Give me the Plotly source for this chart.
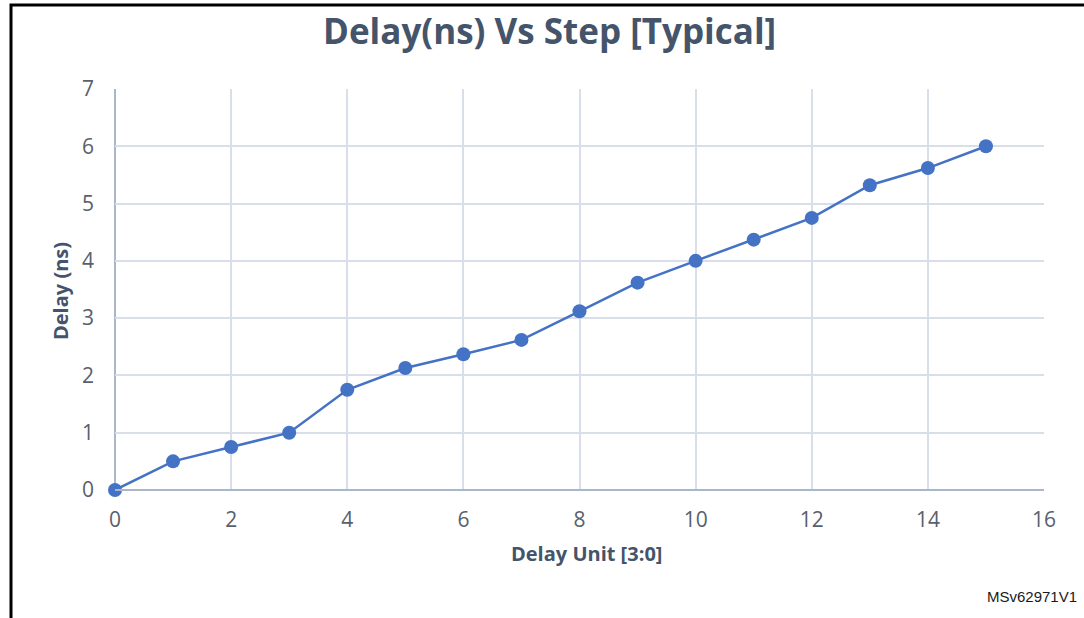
import plotly.graph_objects as go

steps = list(range(16))
delay_ns = [0, 0.5, 0.75, 1.0, 1.75, 2.13, 2.37, 2.62, 3.12, 3.62, 4.0, 4.37, 4.75, 5.32, 5.62, 6.0]
x_ticks = [0, 2, 4, 6, 8, 10, 12, 14, 16]
y_ticks = [0, 1, 2, 3, 4, 5, 6, 7]

W, H = 1084, 618
L, R, T, B = 115, 40, 89, 128
pw, ph = W - L - R, H - T - B

def px(xp):
    return (xp - L) / pw

def py(yp):
    return (H - B - yp) / ph

title_col = "#44546A"
tick_col = "#59606D"

fig = go.Figure()
fig.add_trace(go.Scatter(
    x=steps, y=delay_ns, mode="lines+markers",
    line=dict(color="#4472C4", width=2.5),
    marker=dict(color="#4472C4", size=14),
    cliponaxis=False, showlegend=False,
))

axis_common = dict(
    showgrid=True, gridcolor="#D9DFEA", gridwidth=1.5,
    zeroline=False, ticks="", showline=False,
    tickfont=dict(family="Open Sans", size=21, color=tick_col),
)
fig.update_xaxes(range=[0, 16], tickvals=x_ticks, ticklabelstandoff=15, **axis_common)
fig.update_yaxes(range=[0, 7], tickvals=y_ticks, ticklabelstandoff=20, **axis_common)

shapes = [
    dict(type="line", xref="paper", yref="paper", x0=0, x1=1, y0=0, y1=0,
         line=dict(color="#AAB6CA", width=2)),
    dict(type="line", xref="paper", yref="paper", x0=0, x1=0, y0=0, y1=1,
         line=dict(color="#AAB6CA", width=2), layer="below"),
    dict(type="rect", xref="paper", yref="paper",
         x0=px(11), x1=px(1200), y0=py(700), y1=py(5),
         line=dict(color="black", width=3)),
]

annotations = [
    dict(text="<b>Delay(ns) Vs Step [Typical]</b>", xref="paper", yref="paper",
         x=px(549), y=py(31), xanchor="center", yanchor="middle", showarrow=False,
         font=dict(family="Open Sans", size=35, color=title_col)),
    dict(text="<b>Delay Unit [3:0]</b>", xref="paper", yref="paper",
         x=px(586), y=py(553), xanchor="center", yanchor="middle", showarrow=False,
         font=dict(family="Open Sans", size=20, color=title_col)),
    dict(text="<b>Delay (ns)</b>", xref="paper", yref="paper",
         x=px(60), y=py(291), xanchor="center", yanchor="middle", showarrow=False,
         textangle=-90, font=dict(family="Open Sans", size=20, color=title_col)),
    dict(text="MSv62971V1", xref="paper", yref="paper",
         x=px(1079), y=py(596), xanchor="right", yanchor="middle", showarrow=False,
         font=dict(family="Liberation Sans", size=15, color="#1a1a1a")),
]

fig.update_layout(
    width=W, height=H,
    margin=dict(l=L, r=R, t=T, b=B, pad=0),
    paper_bgcolor="white", plot_bgcolor="white",
    shapes=shapes, annotations=annotations,
)

fig.write_html(
    "out.html",
    config={"displayModeBar": False},
    post_script="document.body.style.margin='0';document.body.style.overflow='hidden';",
)
